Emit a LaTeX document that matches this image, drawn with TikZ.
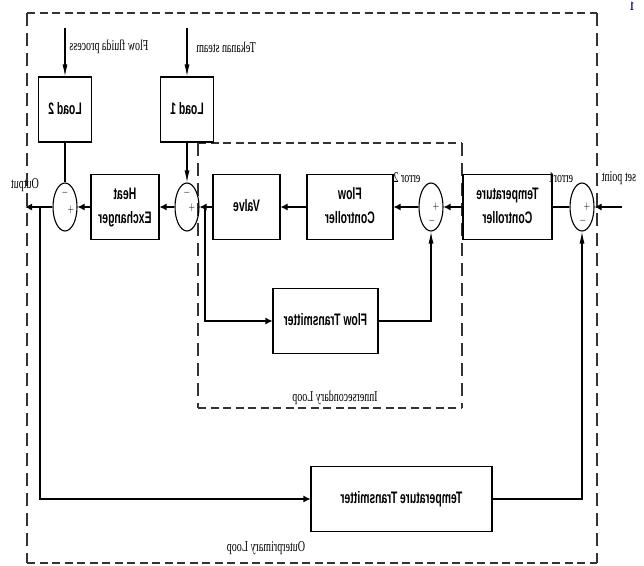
\documentclass[tikz,border=0pt]{standalone}
\usepackage{fontspec}
\setmainfont{Liberation Serif}
\setsansfont{Liberation Sans}
\usepackage{graphicx}
\usetikzlibrary{arrows.meta,shapes.geometric}
\newcommand\boxtxt[1]{\scalebox{-1}[1.6]{\fontsize{10.4}{15}\selectfont\sffamily\bfseries\begin{tabular}{@{}c@{}}#1\end{tabular}}}
\newcommand\lbltxt[1]{\scalebox{-1}[1.5]{\fontsize{10}{12}\selectfont #1}}
\newcommand\sgntxt[1]{\scalebox{1}[1.4]{\fontsize{8}{8}\selectfont $#1$}}
\begin{document}
\begin{tikzpicture}[x=1pt,y=-1pt,
  blk/.style={draw, line width=1.1pt, inner sep=0pt, minimum height=65pt},
  sumn/.style={draw, ellipse, line width=1.1pt, inner sep=0pt, minimum width=24pt, minimum height=48pt},
  conn/.style={line width=1.1pt},
  harr/.style={conn, -{Latex[length=7pt,width=7pt]}},
  varr/.style={conn, -{Latex[length=12pt,width=5pt]}},
  dh/.style={line width=1.7pt, gray!40!black, dash pattern=on 8pt off 4.5pt},
  dv/.style={line width=1.3pt, gray!40!black, dash pattern=on 13pt off 7pt},
  lbl/.style={inner sep=0pt}]
\useasboundingbox (0,0) rectangle (644,565);

% dashed loops
\draw[dh] (27,13) -- (597,13);
\draw[dh] (27,563) -- (597,563);
\draw[dv] (27,13) -- (27,563);
\draw[dv] (597,13) -- (597,563);
\draw[dh] (198,143) -- (462,143);
\draw[dh] (198,408) -- (462,408);
\draw[dv] (198,143) -- (198,408);
\draw[dv] (462,143) -- (462,408);

% blocks
\node[blk, minimum width=53pt] (load2) at (65,109.5) {\boxtxt{Load 2}};
\node[blk, minimum width=53pt] (load1) at (187,109.5) {\boxtxt{Load 1}};
\node[blk, minimum width=68pt] (he) at (125,207) {\boxtxt{Heat\\Exchanger}};
\node[blk, minimum width=67pt] (valve) at (246.5,207) {\boxtxt{Valve}};
\node[blk, minimum width=86pt] (fc) at (350,207) {\boxtxt{Flow\\Controller}};
\node[blk, minimum width=89pt] (tc) at (507.5,207) {\boxtxt{Temperature\\Controller}};
\node[blk, minimum width=105pt] (ft) at (325.5,321) {\boxtxt{Flow Transmitter}};
\node[blk, minimum width=181pt] (tt) at (401.5,499) {\boxtxt{Temperature Transmitter}};

% summing junctions
\node[sumn] (s1) at (65,207) {};
\node[sumn] (s2) at (187,207) {};
\node[sumn] (s3) at (431,207) {};
\node[sumn] (s4) at (582,207) {};
\node[lbl] (s1m) at (65,193) {\sgntxt{-}};
\node[lbl] (s1p) at (71,210) {\sgntxt{+}};
\node[lbl] (s2m) at (187,193) {\sgntxt{-}};
\node[lbl] (s2p) at (192,208) {\sgntxt{+}};
\node[lbl] (s3p) at (436,207) {\sgntxt{+}};
\node[lbl] (s3m) at (432,221) {\sgntxt{-}};
\node[lbl] (s4p) at (587,207) {\sgntxt{+}};
\node[lbl] (s4m) at (583,221) {\sgntxt{-}};

% free ends
\coordinate (sp) at (622,207);
\coordinate (out) at (25,207);
\coordinate (in2) at (65,28);
\coordinate (in1) at (187,28);
\coordinate (fb1) at (205,207);
\coordinate (fb2) at (40,207);

% connectors
\draw[harr] (sp) -- (s4.east);
\draw[conn] (s4.west) -- (tc.east);
\draw[harr] (tc.west) -- (s3.east);
\draw[harr] (s3.west) -- (fc.east);
\draw[harr] (fc.west) -- (valve.east);
\draw[harr] (valve.west) -- (s2.east);
\draw[harr] (s2.west) -- (he.east);
\draw[harr] (he.west) -- (s1.east);
\draw[harr] (s1.west) -- (out);
\draw[conn] (load2.south) -- (s1.north);
\draw[varr] (load1.south) -- (s2.north);
\draw[varr] (in2) -- (load2.north);
\draw[varr] (in1) -- (load1.north);
\draw[harr] (fb1) |- (ft.west);
\draw[varr] (ft.east) -| (s3.south);
\draw[harr] (fb2) |- (tt.west);
\draw[varr] (tt.east) -| (s4.south);

% labels
\node[lbl] (lflow) at (109,47) {\lbltxt{Flow fluida process}};
\node[lbl] (lsteam) at (226,47) {\lbltxt{Tekanan steam}};
\node[lbl] (lout) at (25,185) {\lbltxt{Output}};
\node[lbl] (lsp) at (619,178) {\lbltxt{set point}};
\node[lbl] (le1) at (561,178) {\lbltxt{error1}};
\node[lbl] (le2) at (407,178) {\lbltxt{error 2}};
\node[lbl] (linner) at (335,398) {\lbltxt{Innersecondary Loop}};
\node[lbl] (louter) at (266,548) {\lbltxt{Outerprimary Loop}};
\node[lbl, text=blue!40!black] (pg) at (632,6) {\scalebox{-1}[1.4]{\fontsize{9}{9}\selectfont\bfseries 1}};
\end{tikzpicture}
\end{document}
